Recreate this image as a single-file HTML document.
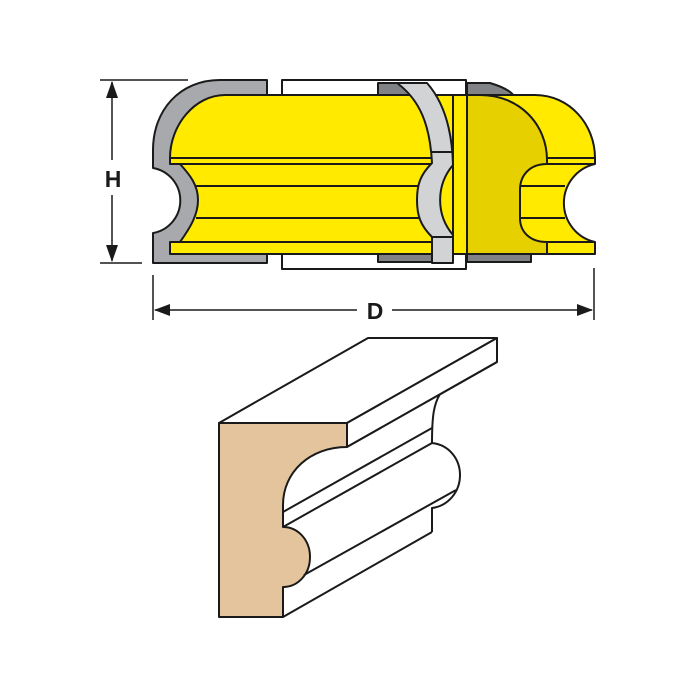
<!DOCTYPE html>
<html><head><meta charset="utf-8"><style>html,body{margin:0;padding:0;background:#fff}svg{display:block}</style></head>
<body>
<svg width="700" height="700" viewBox="0 0 700 700" xmlns="http://www.w3.org/2000/svg" stroke="#1a1a1a" stroke-width="2" stroke-linejoin="round">
<rect x="282" y="80" width="184" height="189" fill="#fff"/>
<rect x="378" y="83" width="34" height="14" fill="#808285"/>
<rect x="378" y="252" width="54" height="10" fill="#808285"/>
<path d="M467,83 L490,83 C500,86 510,90 514,96 L467,96 Z" fill="#808285"/>
<rect x="467" y="252" width="64" height="10" fill="#808285"/>
<path d="M267,80 L220,80 C180,80 153,110 153,150 L153,168 A33,33 0 0 1 153,233 L153,263 L267,263 Z" fill="#a7a9ac"/>
<path d="M455,95 L225,95 C195,95 170,125 170,158 L170,164 L180,164 C190,175 198,185 198,200 C198,215 190,228 180,242 L170,242 L170,254 L455,254 Z" fill="#ffea00"/>
<g fill="none">
<line x1="170" y1="158" x2="440" y2="158"/>
<line x1="178" y1="164" x2="440" y2="164"/>
<line x1="196" y1="186" x2="425" y2="186"/>
<line x1="196" y1="218" x2="425" y2="218"/>
<line x1="178" y1="242" x2="440" y2="242"/>
</g>
<path d="M397,83 L427,83 C442,100 452,125 453,165 A54,54 0 0 0 453,235 L453,263 L432,263 L432,237 C420,225 417,215 417,200 C417,185 420,175 432,163 C430,125 420,100 397,83 Z" fill="#d1d3d4"/>
<line x1="432" y1="152" x2="453" y2="152"/>
<line x1="432" y1="237" x2="453" y2="237"/>
<rect x="453" y="95" width="14" height="159" fill="#ffea00"/>
<line x1="467" y1="83" x2="467" y2="262"/>
<path d="M470,95 L535,95 C570,95 595,125 595,158 L595,164 A40,40 0 0 0 595,242 L595,254 L470,254 Z" fill="#ffea00"/>
<path d="M467,95 L480,95 C520,95 547,125 547,160 L547,164 C530,164 520,175 520,190 L520,218 C520,232 530,242 547,242 L547,254 L467,254 Z" fill="#e6d000"/>
<g fill="none">
<line x1="547" y1="158" x2="595" y2="158"/>
<line x1="547" y1="164" x2="595" y2="164"/>
<line x1="520" y1="186" x2="565" y2="186"/>
<line x1="520" y1="218" x2="565" y2="218"/>
<line x1="547" y1="242" x2="595" y2="242"/>
<line x1="547" y1="164" x2="547" y2="158"/>
<line x1="547" y1="242" x2="547" y2="254"/>
</g>
<g stroke-width="1.5">
<line x1="100" y1="80" x2="188" y2="80"/>
<line x1="100" y1="263" x2="142" y2="263"/>
<line x1="112" y1="82" x2="112" y2="160"/>
<line x1="112" y1="195" x2="112" y2="261"/>
<line x1="153" y1="275" x2="153" y2="320"/>
<line x1="594" y1="268" x2="594" y2="320"/>
<line x1="155" y1="310" x2="357" y2="310"/>
<line x1="392" y1="310" x2="592" y2="310"/>
</g>
<g stroke="none" fill="#1a1a1a">
<path d="M112,81 L106,98 L118,98 Z"/>
<path d="M112,262 L106,245 L118,245 Z"/>
<path d="M154,310 L170,304 L170,316 Z"/>
<path d="M593,310 L577,304 L577,316 Z"/>
<text x="113" y="187" font-family="Liberation Sans, sans-serif" font-weight="bold" font-size="23" text-anchor="middle">H</text>
<text x="375" y="319" font-family="Liberation Sans, sans-serif" font-weight="bold" font-size="23" text-anchor="middle">D</text>
</g>
<path d="M219,423 L368,338 L497,338 L347,423 Z" fill="#fff"/>
<path d="M347,423 L497,338 L497,362 L347,447 Z" fill="#fff"/>
<path d="M347,447 L440,394 C434,404 432,415 432,443 C450,445 460,460 460,475 C460,492 448,506 432,508 L432,532 L283,617 L283,505 C283,472 310,447 347,447 Z" fill="#fff" stroke="none"/>
<path d="M219,423 L347,423 L347,447 C310,447 283,472 283,505 L283,527 C298,527 310,540 310,557 C310,574 298,587 283,587 L283,617 L219,617 Z" fill="#e3c49c"/>
<g fill="none">
<line x1="347" y1="447" x2="497" y2="362"/>
<path d="M440,394 C434,404 432,415 432,443"/>
<line x1="283" y1="512" x2="432" y2="428"/>
<line x1="283" y1="527" x2="432" y2="443"/>
<line x1="304" y1="575" x2="456" y2="490"/>
<line x1="283" y1="617" x2="432" y2="532"/>
<path d="M432,443 C450,445 460,460 460,475 C460,492 448,506 432,508 L432,532"/>
</g>
</svg>
</body></html>
